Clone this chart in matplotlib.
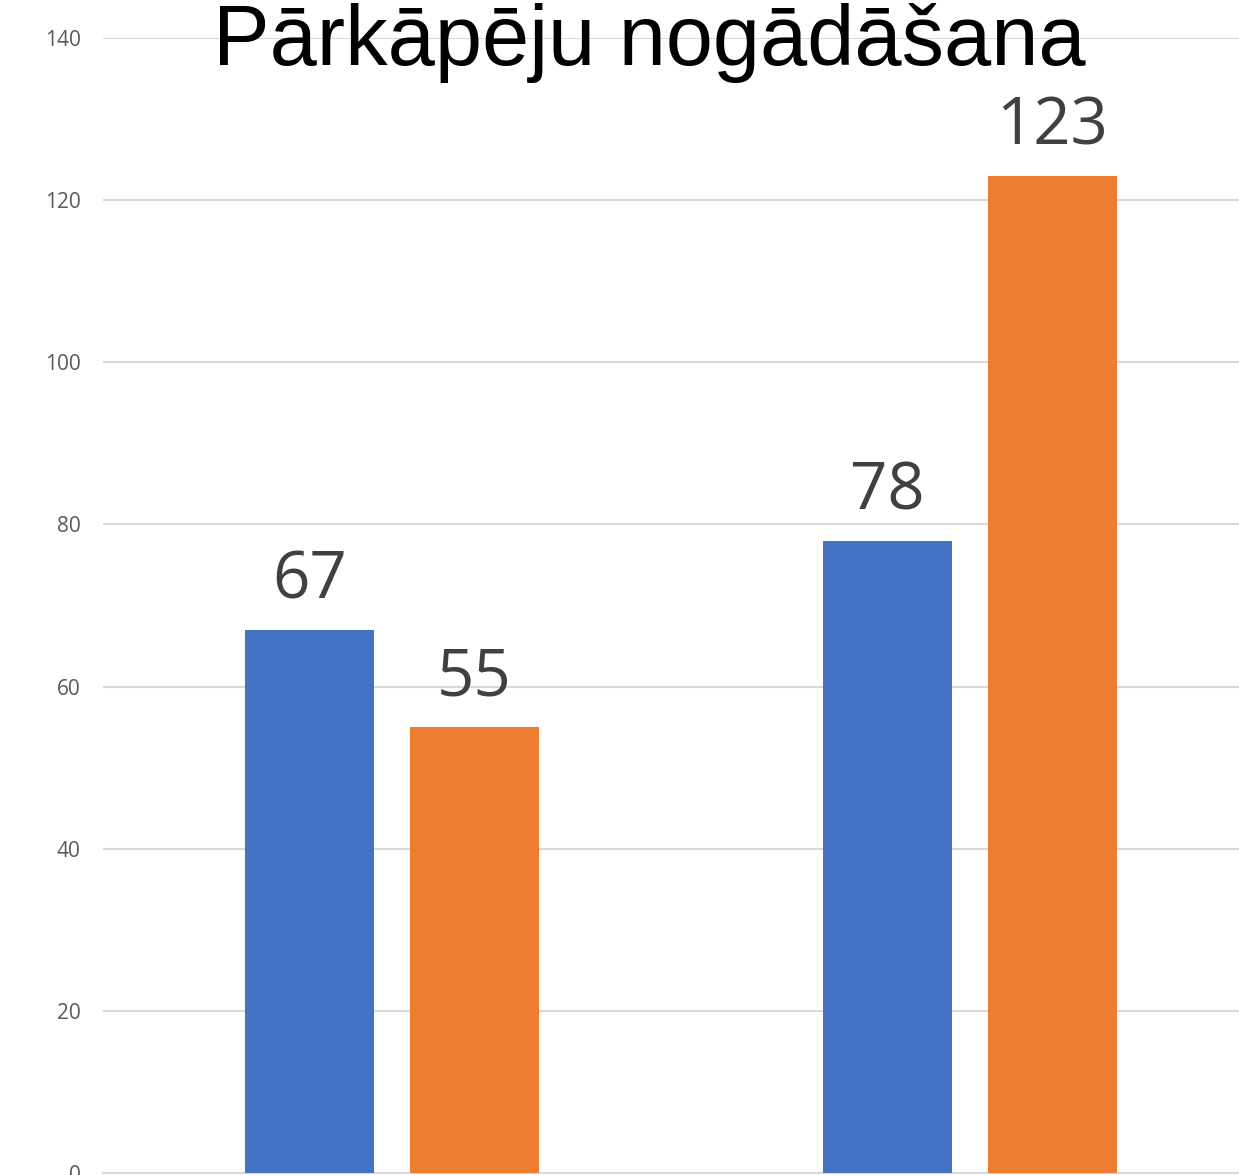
import numpy as np
import matplotlib.pyplot as plt

title = "Pārkāpēju nogādāšana"
categories = ["A", "B"]
series1 = [67, 78]
series2 = [55, 123]
yticks = [0, 20, 40, 60, 80, 100, 120, 140]

W, H = 1239, 1175
fig = plt.figure(figsize=(W / 100, H / 100), dpi=100)
# axes area in pixels: left 103, right ~1259 (cropped), y=0 at 1173, y=140 at 38
ax = fig.add_axes([103 / W, (H - 1173) / H, 1.0 - 103 / W, (1173 - 38) / H])

x = np.arange(len(categories))
bw = 0.223
off = 0.1427
b1 = ax.bar(x - off, series1, bw, color="#4472C4", zorder=3)
b2 = ax.bar(x + off, series2, bw, color="#ED7D31", zorder=3)

for bars in (b1, b2):
    for r in bars:
        ax.annotate(str(int(r.get_height())), (r.get_x() + r.get_width() / 2, r.get_height()),
                    xytext=(0, 11), textcoords="offset points", ha="center", va="bottom",
                    fontsize=47, color="#404040", family="Open Sans")

ax.set_xlim(-0.5, (W - 392) / 578)
ax.set_ylim(0, 140)
ax.set_yticks(yticks)
ax.set_xticks([])
ax.grid(axis="y", color="#d9d9d9", linewidth=1.5, zorder=0)
for s in ["top", "right", "left"]:
    ax.spines[s].set_visible(False)
ax.spines["bottom"].set_color("#d9d9d9")
ax.spines["bottom"].set_linewidth(1.5)
ax.tick_params(axis="y", length=0, pad=16, labelsize=15, labelcolor="#595959")
for lab in ax.get_yticklabels():
    lab.set_family("Open Sans")

fig.text(649 / W, (H - 65) / H, title, ha="center", va="baseline",
         fontsize=61, family="Liberation Sans", color="black")

fig.savefig("out.png", dpi=100)
